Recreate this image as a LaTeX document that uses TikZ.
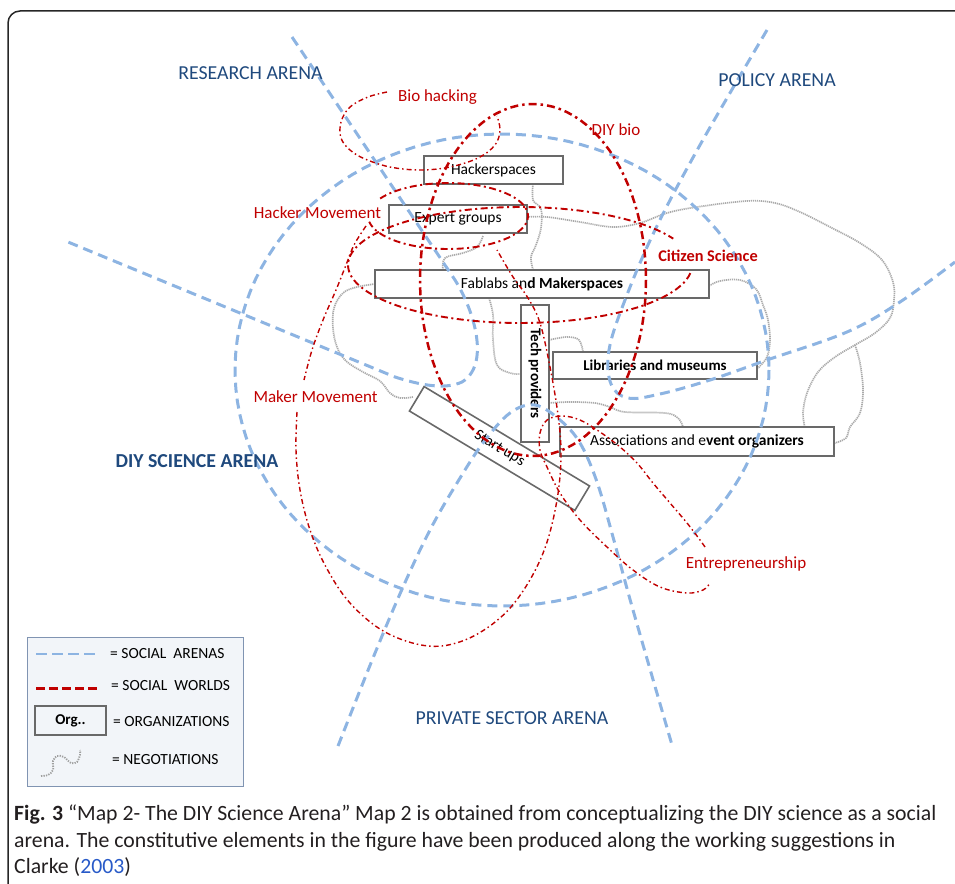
\documentclass[tikz,border=0pt]{standalone}
\usepackage{fontspec}
\setmainfont{Carlito}
\definecolor{arenablue}{RGB}{141,180,226}
\definecolor{arenatext}{RGB}{31,73,125}
\definecolor{worldred}{RGB}{192,0,0}
\definecolor{neggrey}{RGB}{170,170,170}
\definecolor{boxgrey}{RGB}{105,105,105}
\definecolor{boxshade}{RGB}{190,190,190}
\definecolor{legfill}{RGB}{242,245,249}
\definecolor{legdraw}{RGB}{128,148,178}
\definecolor{linkblue}{RGB}{40,90,200}
\definecolor{captext}{RGB}{35,31,32}
\begin{document}
\begin{tikzpicture}[x=1pt, y=-1pt,
 arena/.style={draw=arenablue, line width=3pt, dash pattern=on 10pt off 6pt},
 worldthin/.style={draw=worldred, line width=1.4pt, dash pattern=on 5pt off 3pt on 1.5pt off 3pt},
 worldmed/.style={draw=worldred, line width=1.9pt, dash pattern=on 7pt off 3.5pt on 2pt off 3.5pt},
 worldthick/.style={draw=worldred, line width=2.5pt, dash pattern=on 8pt off 4pt on 2.5pt off 4pt},
 nego/.style={draw=neggrey, line width=1.7pt, dash pattern=on 1.2pt off 0.8pt},
 orgbox/.style={draw=boxgrey, line width=1.6pt, inner sep=0pt, text=black, font=\fontsize{15.5}{18}\selectfont},
 arenalabel/.style={text=arenatext, inner sep=0pt, font=\fontsize{19.8}{23}\selectfont},
 worldlabel/.style={text=worldred, inner sep=0pt, font=\fontsize{17}{20}\selectfont},
 legtext/.style={anchor=west, inner sep=0pt, text=black, font=\fontsize{15.5}{18}\selectfont},
 capline/.style={anchor=base west, inner sep=0pt, text=captext, font=\fontsize{21.75}{26}\selectfont}]
\useasboundingbox (0,0) rectangle (955,883);
% frame
\draw[line width=1.5pt, draw=black!85, rounded corners=12pt] (8,1000) -- (8,11) -- (1000,11);

% negotiations (grey)
\draw[nego] plot[smooth, tension=0.6] coordinates {(527,217)(547,217)(580,222)(613,227)(640,223)(667,213)(697,207)(747,201)(775,203)(800,212)(830,227)(860,243)(882,260)(893,282)(894,300)(890,318)(875,333)(855,345)(835,357)(818,372)(807,393)(803,413)(805,428)};
\draw[nego] plot[smooth, tension=0.6] coordinates {(855,345)(860,363)(863,390)(860,413)(850,427)(846,438)(835,443)};
\draw[nego] plot[smooth, tension=0.6] coordinates {(533,184)(533,200)(541,209)(541,228)(536,245)(531,257)(533,270)};
\draw[nego] plot[smooth, tension=0.6] coordinates {(709,286)(720,281)(740,280)(756,289)(763,305)(768,320)(770,340)(767,357)(758,368)};
\draw[nego] plot[smooth, tension=0.6] coordinates {(375,284)(357,287)(343,293)(334,308)(333,328)(337,347)(346,361)(363,372)(380,381)(390,393)(400,398)(413,397)};
\draw[nego] plot[smooth, tension=0.6] coordinates {(443,270)(445,258)(463,253)(477,247)(483,236)};
\draw[nego] plot[smooth, tension=0.6] coordinates {(489,298)(493,315)(493,340)(497,365)(510,373)(521,374)};
\draw[nego] plot[smooth, tension=0.6] coordinates {(549,340)(567,337)(579,340)(583,352)};
\draw[nego] plot[smooth, tension=0.6] coordinates {(549,403)(570,402)(595,403)(610,407)(625,412)(665,413)(678,418)(683,427)};

% organizations
\node[orgbox, minimum width=139, minimum height=28] (hack) at (493.5,170) {Hackerspaces};
\node[orgbox, minimum width=138, minimum height=28] (expert) at (458,219) {Expert groups};
\node[orgbox, minimum width=334, minimum height=28] (fablab) at (542,284) {Fablabs an\textbf{d Makerspaces}};
\node[orgbox, minimum width=137, minimum height=28, rotate=-90, font=\fontsize{15}{18}\selectfont\bfseries] (tech) at (535,373.5) {Tech providers};
\node[orgbox, minimum width=204, minimum height=27, font=\fontsize{15}{18}\selectfont\bfseries] (lib) at (655,365.5) {Libraries and museums};
\node[orgbox, minimum width=274, minimum height=29] (assoc) at (697,441.5) {Associations and e\textbf{vent organizers}};
\node[orgbox, minimum width=193, minimum height=28.5, rotate=-31] (startup) at (499.5,448.5) {Start ups};

% social arenas (blue)
\draw[arena] plot[domain=0:360, samples=120] ({502+267*cos(\x)},{370+236*sin(\x)});
\draw[arena] (292,37) -- (455,280) .. controls (475,312) and (490,365) .. (462,382) .. controls (445,390) and (420,385) .. (395,377) -- (68,242);
\draw[arena] plot[smooth, tension=0.6] coordinates {(767,30)(700,145)(655,230)(625,300)(609,350)(611,384)(628,398)(660,394)(710,380)(767,360)(847,332)(900,302)(955,262)};
\draw[arena] plot[smooth, tension=0.6] coordinates {(338,746)(373,658)(403,587)(430,530)(457,483)(483,443)(510,413)(535,405)(560,420)(580,443)(597,482)(613,537)(633,610)(672,745)};

% social worlds (red)
\draw[worldthick] plot[domain=0:360, samples=100] ({533+113*cos(\x)},{280+176*sin(\x)});
\draw[worldmed] plot[domain=8:333, samples=100] ({520+172*cos(\x)},{265+58*sin(\x)});
\draw[worldmed] plot[domain=-148:170, samples=80] ({448+80*cos(\x)},{216+33*sin(\x)});
\draw[worldthin] plot[smooth, tension=0.6] coordinates {(387,92)(368,97)(350,107)(341,122)(341,138)(350,150)(365,159)(390,167)(420,170)(450,167)(478,158)(495,145)(500,130)(497,116)};
\draw[worldthin] plot[smooth, tension=0.6] coordinates {(366,226)(354,245)(346,265)(336,290)(323,320)(312,350)(304,380)};
\draw[worldthin] plot[smooth, tension=0.6] coordinates {(297,412)(296,450)(300,490)(310,530)(326,567)(350,603)(385,632)(428,646)(465,640)(500,618)(525,588)(545,548)(557,500)(561,455)(558,415)(550,367)(540,323)(528,298)(513,277)(497,250)};
\draw[worldthin] plot[smooth, tension=0.6] coordinates {(705,547)(700,540)(687,523)(670,503)(653,483)(637,463)(620,447)(600,432)(580,420)(562,416)(547,420)(540,433)(540,450)(547,467)(560,493)(580,520)(607,547)(633,570)(660,587)(687,593)(703,590)(710,583)};

% arena labels
\node[arenalabel] (research) at (250.5,73) {RESEARCH ARENA};
\node[arenalabel] (policy) at (777,80) {POLICY ARENA};
\node[arenalabel, font=\fontsize{19.8}{23}\selectfont\bfseries] (diyarena) at (197,461) {DIY SCIENCE ARENA};
\node[arenalabel] (private) at (512,718) {PRIVATE SECTOR ARENA};

% world labels
\node[worldlabel] (biohack) at (437.5,97) {Bio hacking};
\node[worldlabel] (diybio) at (616,130) {DIY bio};
\node[worldlabel] (hackermov) at (317.5,213) {Hacker Movement};
\node[worldlabel, font=\fontsize{16.3}{19}\selectfont\bfseries] (citizen) at (708,256) {Citizen Science};
\node[worldlabel] (makermov) at (315.5,397) {Maker Movement};
\node[worldlabel] (entre) at (746,564) {Entrepreneurship};

% legend
\node[draw=legdraw, fill=legfill, line width=0.8pt, minimum width=216, minimum height=149, inner sep=0pt] (legend) at (135,711.5) {};
\draw[draw=arenablue, line width=2.6pt, dash pattern=on 11pt off 5pt] (36,654) -- (98,654);
\node[legtext] (lga) at (110,654) {= SOCIAL\ \ ARENAS};
\draw[draw=worldred, line width=3pt, dash pattern=on 9pt off 4pt] (36,688) -- (98,688);
\node[legtext] (lgw) at (111,686) {= SOCIAL\ \ WORLDS};
\node[orgbox, minimum width=71, minimum height=29, font=\fontsize{15}{18}\selectfont\bfseries] (lgorg) at (70.5,720.5) {Org..};
\node[legtext] (lgo) at (113,722) {= ORGANIZATIONS};
\draw[draw=gray!75, line width=1.8pt, dash pattern=on 1.3pt off 1.2pt] plot[smooth, tension=0.6] coordinates {(41,776)(48,775)(53,770)(53,761)(57,756)(64,757)(71,763)(77,762)(80,755)(80,750)};
\node[legtext] (lgn) at (112,760) {= NEGOTIATIONS};

% caption
\node[capline] (cap1) at (14,820) {\textbf{Fig. 3} “Map 2- The DIY Science Arena” Map 2 is obtained from conceptualizing the DIY science as a social};
\node[capline] (cap2) at (14,847) {arena. The constitutive elements in the figure have been produced along the working suggestions in};
\node[capline] (cap3) at (14,873) {Clarke ({\color{linkblue}2003})};
\end{tikzpicture}
\end{document}
